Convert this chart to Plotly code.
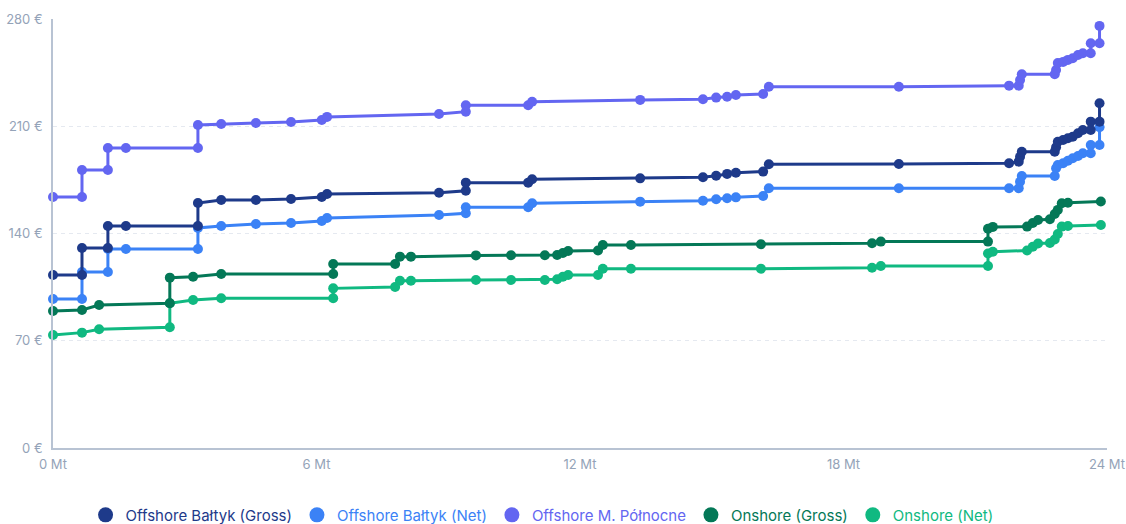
import plotly.graph_objects as go

# Offshore series share the cumulative capacity axis (Mt)
offshore_x = [0.0, 0.66, 0.66, 1.25, 1.25, 1.66, 3.30, 3.30, 3.83, 4.62, 5.42, 6.12, 6.24,
              8.79, 9.40, 9.40, 10.82, 10.91, 13.37, 14.80, 15.10, 15.35, 15.55, 16.17, 16.30,
              19.26, 21.77, 21.99, 22.02, 22.06, 22.81, 22.84, 22.88, 23.00, 23.11, 23.22,
              23.34, 23.45, 23.63, 23.63, 23.83, 23.83]
offshore_mp = [163.8, 163.8, 181.5, 181.5, 195.8, 195.8, 195.8, 210.8, 211.5, 212.1, 212.8, 214.1, 216.1,
               218.0, 219.5, 223.7, 223.7, 226.0, 227.2, 227.6, 228.7, 229.3, 230.4, 231.1, 235.8,
               235.8, 236.5, 236.5, 240.2, 243.9, 243.9, 246.7, 251.3, 252.0, 253.3, 254.4,
               256.5, 257.6, 257.6, 264.2, 264.2, 275.5]
offshore_baltic_gross = [112.9, 112.9, 130.5, 130.5, 144.9, 144.9, 144.9, 159.9, 161.9, 161.9, 162.5, 163.8, 165.8,
                         166.6, 167.9, 173.2, 173.2, 175.4, 176.0, 176.7, 177.7, 178.9, 179.7, 180.4, 185.2,
                         185.4, 185.8, 186.9, 190.1, 193.4, 193.4, 196.3, 199.9, 201.0, 202.2, 203.2,
                         205.4, 207.6, 207.6, 213.0, 213.0, 225.0]
offshore_baltic_net = [97.3, 97.3, 114.9, 114.9, 129.9, 129.9, 129.9, 143.6, 144.9, 146.2, 146.9, 148.2, 150.1,
                       152.1, 153.2, 157.1, 157.1, 159.7, 160.8, 161.4, 162.3, 163.0, 163.6, 164.5, 169.5,
                       169.5, 169.5, 169.5, 173.8, 177.5, 177.5, 182.6, 184.7, 185.8, 187.5, 189.1,
                       190.6, 192.4, 192.4, 197.8, 197.8, 209.3]

onshore_x = [0.0, 0.66, 1.05, 2.66, 2.66, 3.19, 3.83, 6.38, 6.38, 7.79, 7.90, 8.15, 9.63, 10.43,
             11.20, 11.48, 11.61, 11.73, 12.41, 12.52, 13.16, 16.12, 18.65, 18.85, 21.29, 21.29,
             21.40, 22.18, 22.31, 22.43, 22.70, 22.81, 22.88, 22.97, 23.11, 23.86]
onshore_gross = [89.4, 90.1, 93.3, 94.5, 111.2, 111.8, 113.6, 113.6, 120.1, 120.1, 124.9, 124.9, 125.7, 125.8,
                 125.8, 126.0, 127.3, 128.6, 128.9, 132.5, 132.5, 133.0, 133.6, 134.7, 134.7, 143.1,
                 144.3, 144.5, 146.9, 148.8, 149.3, 152.7, 155.4, 159.7, 160.1, 160.9]
onshore_net = [73.8, 75.3, 77.5, 78.8, 94.5, 96.6, 97.7, 97.7, 104.2, 105.1, 109.2, 109.2, 109.7, 109.7,
               109.7, 110.1, 111.8, 112.9, 112.9, 117.0, 117.0, 117.0, 117.7, 118.8, 118.8, 127.0,
               128.1, 128.9, 131.4, 133.5, 133.8, 136.1, 139.7, 144.5, 144.9, 145.6]

names = ["Offshore Bałtyk (Gross)", "Offshore Bałtyk (Net)", "Offshore M. Północne",
         "Onshore (Gross)", "Onshore (Net)"]
colors = ["#1e3a8a", "#3b82f6", "#6366f1", "#047857", "#10b981"]
xs = [offshore_x, offshore_x, offshore_x, onshore_x, onshore_x]
ys = [offshore_baltic_gross, offshore_baltic_net, offshore_mp, onshore_gross, onshore_net]

x_ticks = [0, 6, 12, 18, 24]
y_ticks = [0, 70, 140, 210, 280]

fig = go.Figure()
for i in [4, 3, 2, 1, 0]:
    fig.add_trace(go.Scatter(
        x=xs[i], y=ys[i], mode="lines+markers", name=names[i],
        line=dict(color=colors[i], width=3),
        marker=dict(color=colors[i], size=10),
        showlegend=False, hoverinfo="skip", cliponaxis=False))
for i in range(5):
    fig.add_trace(go.Scatter(
        x=[None], y=[None], mode="markers",
        name=f'<span style="color:{colors[i]}">{names[i]}</span>',
        marker=dict(color=colors[i], size=15)))

fig.update_layout(
    width=1126, height=524,
    margin=dict(l=53, r=19, t=19, b=76, autoexpand=False),
    paper_bgcolor="white", plot_bgcolor="white",
    font=dict(family="Inter, Roboto, sans-serif", size=13, color="#94a3b8"),
    legend=dict(orientation="h", x=0.464, xanchor="center",
                yref="container", y=0.017, yanchor="middle",
                font=dict(size=15), itemwidth=30, traceorder="normal"),
    xaxis=dict(range=[0, 24], tickvals=x_ticks, ticktext=[f"{v} Mt" for v in x_ticks],
               showgrid=False, zeroline=False, showline=True, linecolor="#b8c3d3", linewidth=1.5,
               ticks="", ticklabelstandoff=4, automargin=False, fixedrange=True),
    yaxis=dict(range=[0, 280], tickvals=y_ticks, ticktext=[f"{v} €" for v in y_ticks],
               showgrid=True, gridcolor="#e5e9f0", griddash="4px,4px", gridwidth=1,
               zeroline=False, showline=True, linecolor="#b8c3d3", linewidth=1.5,
               ticks="", ticklabelstandoff=6, automargin=False, fixedrange=True),
)

fig.write_html("out.html", config={"displayModeBar": False},
               post_script="document.body.style.margin='0';document.body.style.overflow='hidden';")
